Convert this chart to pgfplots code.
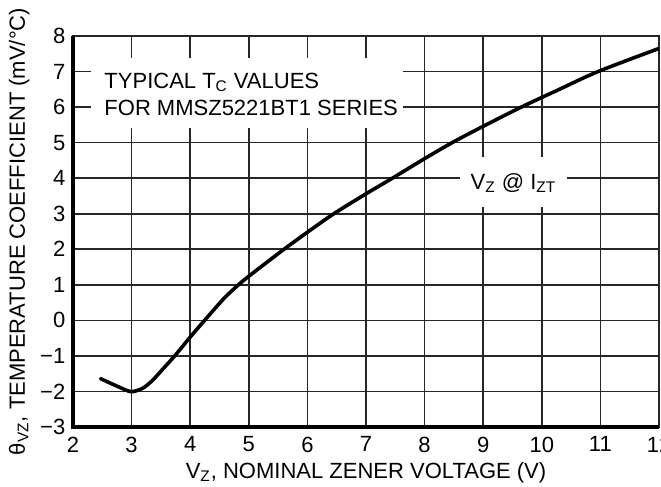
\documentclass[border=0pt]{standalone}
\usepackage{fontspec}
\setmainfont{Liberation Sans}
\usepackage{pgfplots}
\pgfplotsset{compat=1.18}
\begin{document}
\fontsize{11}{13.9}\selectfont
\begin{tikzpicture}
\begin{axis}[name=ax, scale only axis, width=293pt, height=195.5pt,
  xmin=2, xmax=12, ymin=-3, ymax=8,
  xtick={2,...,12}, ytick={-3,...,8},
  yticklabels={−3,−2,−1,0,1,2,3,4,5,6,7,8},
  grid=major, grid style={line width=0.8pt, black!85},
  major tick length=0pt,
  axis line style={line width=0.8pt, black!85},
  tick label style={font=\fontsize{11}{13}\selectfont},
  xticklabel style={yshift=-1pt},
  /pgf/number format/assume math mode=true]
\fill[white] (axis cs:2.31,5.41) rectangle (axis cs:7.63,7.38);
\fill[white] (axis cs:8.60,3.20) rectangle (axis cs:10.43,4.60);
\node[anchor=base west, inner sep=0pt] at (axis cs:2.53,6.53) {TYPICAL T\textsubscript{C} VALUES};
\node[anchor=base west, inner sep=0pt] at (axis cs:2.53,5.75) {FOR MMSZ5221BT1 SERIES};
\node[anchor=base west, inner sep=0pt] at (axis cs:8.78,3.69) {V\textsubscript{Z} @ I\textsubscript{ZT}};
\addplot[black, line width=1.8pt, smooth, tension=0.5, line join=round, line cap=round] coordinates {
 (2.47,-1.64) (2.75,-1.85) (2.97,-2.0) (3.08,-1.98) (3.2,-1.9) (3.35,-1.7)
 (3.5,-1.43) (3.735,-1.0) (4.0,-0.47) (4.245,0.0) (4.5,0.48) (4.62,0.69)
 (4.85,1.04) (5.1,1.37) (5.6,2.0) (6.0,2.48) (6.45,3.0) (7.0,3.56)
 (7.45,4.0) (8.0,4.55) (8.47,5.0) (9.0,5.46) (9.65,6.0) (10.3,6.5)
 (10.96,7.0) (12.0,7.65)
};
\end{axis}
\draw[line width=1.6pt] (ax.north west) -- (ax.south west) -- (ax.south east);
\node[anchor=base] at ([yshift=-25.5pt]ax.south) {V\textsubscript{Z}, NOMINAL ZENER VOLTAGE (V)};
\node[anchor=base, rotate=90] at ([xshift=-24pt]ax.west) {θ\textsubscript{VZ}, TEMPERATURE COEFFICIENT (mV/°C)};
\pgfresetboundingbox
\path ([shift={(-36.5pt,-29.5pt)}]ax.south west) rectangle ([shift={(1pt,18pt)}]ax.north east);
\end{tikzpicture}
\end{document}
